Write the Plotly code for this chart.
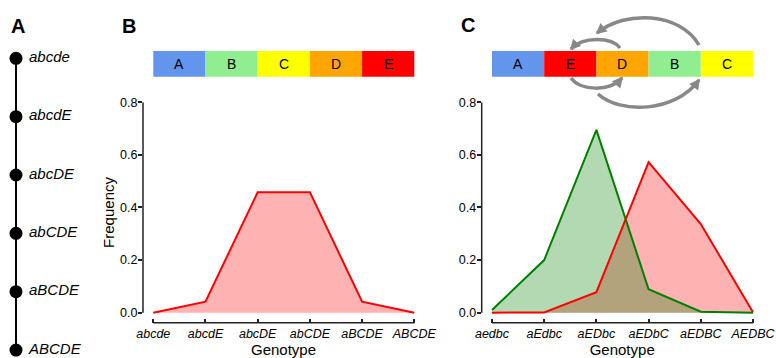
import plotly.graph_objects as go

W, H = 776, 358
FONT = "Liberation Sans, Arial, Helvetica, sans-serif"

# ---------------- data ----------------
path_genotypes = ["abcde", "abcdE", "abcDE", "abCDE", "aBCDE", "ABCDE"]

b_genotypes = ["abcde", "abcdE", "abcDE", "abCDE", "aBCDE", "ABCDE"]
b_freq = [0.0, 0.042, 0.458, 0.458, 0.042, 0.0]

c_genotypes = ["aedbc", "aEdbc", "aEDbc", "aEDbC", "aEDBC", "AEDBC"]
c_green = [0.01, 0.20, 0.695, 0.089, 0.004, 0.0]
c_red = [0.0, 0.001, 0.078, 0.572, 0.337, 0.002]

b_genes = ["A", "B", "C", "D", "E"]
c_genes = ["A", "E", "D", "B", "C"]
gene_colors = {"A": "#6495ED", "B": "#90EE90", "C": "#FFFF00", "D": "#FFA500", "E": "#FF0000"}

yticks = [0.0, 0.2, 0.4, 0.6, 0.8]


def X(px):
    return px / W


def Y(py):
    return 1 - py / H


fig = go.Figure()

# ---------------- panel A ----------------
fig.add_trace(go.Scatter(
    x=[0] * len(path_genotypes), y=list(range(len(path_genotypes))),
    mode="lines+markers",
    line=dict(color="black", width=2),
    marker=dict(size=13, color="black"),
    xaxis="x", yaxis="y", showlegend=False, hoverinfo="skip", cliponaxis=False,
))
fig.add_trace(go.Scatter(
    x=[13] * len(path_genotypes), y=list(range(len(path_genotypes))),
    mode="text",
    text=["<i>%s</i>" % g for g in path_genotypes],
    textposition="middle right",
    textfont=dict(size=15, color="black", family=FONT),
    xaxis="x", yaxis="y", showlegend=False, hoverinfo="skip", cliponaxis=False,
))

# ---------------- panel B ----------------
xb = list(range(len(b_genotypes)))
fig.add_trace(go.Scatter(
    x=xb, y=b_freq, mode="lines", fill="tozeroy",
    fillcolor="rgba(255,0,0,0.3)", line=dict(width=0, color="rgba(0,0,0,0)"),
    xaxis="x2", yaxis="y2", showlegend=False, hoverinfo="skip"))
fig.add_trace(go.Scatter(
    x=xb, y=b_freq, mode="lines", line=dict(color="red", width=2),
    xaxis="x2", yaxis="y2", showlegend=False))

# ---------------- panel C ----------------
xc = list(range(len(c_genotypes)))
fig.add_trace(go.Scatter(
    x=xc, y=c_red, mode="lines", fill="tozeroy",
    fillcolor="rgba(255,0,0,0.3)", line=dict(width=0, color="rgba(0,0,0,0)"),
    xaxis="x3", yaxis="y3", showlegend=False, hoverinfo="skip"))
fig.add_trace(go.Scatter(
    x=xc, y=c_green, mode="lines", fill="tozeroy",
    fillcolor="rgba(0,128,0,0.3)", line=dict(width=0, color="rgba(0,0,0,0)"),
    xaxis="x3", yaxis="y3", showlegend=False, hoverinfo="skip"))
fig.add_trace(go.Scatter(
    x=xc, y=c_red, mode="lines", line=dict(color="red", width=2),
    xaxis="x3", yaxis="y3", showlegend=False))
fig.add_trace(go.Scatter(
    x=xc, y=c_green, mode="lines", line=dict(color="green", width=2),
    xaxis="x3", yaxis="y3", showlegend=False))

shapes = []
annotations = []

# axis spines (bounded)
for xa, ya, n in (("x2", "y2", len(b_genotypes)), ("x3", "y3", len(c_genotypes))):
    shapes.append(dict(type="line", xref=xa, yref=ya + " domain", x0=0, x1=n - 1, y0=0, y1=0,
                       line=dict(color="#222", width=1.5)))
    shapes.append(dict(type="line", xref=xa + " domain", yref=ya, x0=0, x1=0, y0=yticks[0], y1=yticks[-1],
                       line=dict(color="#222", width=1.5)))

# gene bars
bar_y0, bar_y1 = Y(76.7), Y(51)
for xa, genes in (("x2", b_genes), ("x3", c_genes)):
    for i, g in enumerate(genes):
        shapes.append(dict(type="rect", xref=xa, yref="paper", x0=i, x1=i + 1, y0=bar_y0, y1=bar_y1,
                           fillcolor=gene_colors[g], line=dict(width=0), layer="below"))
        annotations.append(dict(xref=xa, yref="paper", x=i + 0.5, y=(bar_y0 + bar_y1) / 2, text=g,
                                xanchor="center", yanchor="middle",
                                showarrow=False, font=dict(size=14, color="black", family=FONT)))


# arrows (decorative curves, pixel geometry)
def curve_arrow(p0, p1, p2, p3):
    path = "M %f,%f C %f,%f %f,%f %f,%f" % (X(p0[0]), Y(p0[1]), X(p1[0]), Y(p1[1]),
                                             X(p2[0]), Y(p2[1]), X(p3[0]), Y(p3[1]))
    shapes.append(dict(type="path", xref="paper", yref="paper", path=path,
                       line=dict(color="#888888", width=3.5)))
    dx, dy = p3[0] - p2[0], p3[1] - p2[1]
    L = (dx * dx + dy * dy) ** 0.5
    ux, uy = dx / L, dy / L
    hl, hw = 9.0, 5.5
    bx, by = p3[0] - ux * hl, p3[1] - uy * hl
    a = (bx - uy * hw, by + ux * hw)
    b = (bx + uy * hw, by - ux * hw)
    tip = (p3[0] + ux * 1.5, p3[1] + uy * 1.5)
    tri = "M %f,%f L %f,%f L %f,%f Z" % (X(tip[0]), Y(tip[1]), X(a[0]), Y(a[1]), X(b[0]), Y(b[1]))
    shapes.append(dict(type="path", xref="paper", yref="paper", path=tri,
                       fillcolor="#888888", line=dict(width=0)))


curve_arrow((699, 45), (680, 12), (625, 10), (597, 33))
curve_arrow((620, 48), (612, 37), (583, 36), (571, 49))
curve_arrow((571, 78), (580, 91), (610, 92), (622, 78))
curve_arrow((598, 94), (620, 114), (675, 113), (699, 80))

# panel letters
for txt, px, py in (("A", 18, 26), ("B", 129, 26), ("C", 468, 25.5)):
    annotations.append(dict(xref="paper", yref="paper", x=X(px), y=Y(py), text="<b>%s</b>" % txt,
                            showarrow=False, xanchor="center", yanchor="middle",
                            font=dict(size=20, color="black", family=FONT)))

tickfont = dict(size=12.5, color="black", family=FONT)
common_x = dict(range=[-0.197, 5.186], tickmode="array", ticks="inside", ticklen=4, tickwidth=1.5,
                tickcolor="#222", showgrid=False, zeroline=False, showline=False, automargin=False,
                ticklabelstandoff=2,
                tickfont=dict(size=12.5, color="black", family=FONT, style="italic"),
                title=dict(text="Genotype", font=dict(size=15, color="black", family=FONT), standoff=2))
common_y = dict(range=[-0.038, 0.8], tickmode="array", tickvals=yticks, automargin=False,
                ticklabelstandoff=-2,
                ticktext=["%.1f" % v for v in yticks], ticks="outside", ticklen=4, tickwidth=1.5,
                tickcolor="#222", showgrid=False, zeroline=False, showline=False, tickfont=tickfont)

fig.update_layout(
    width=W, height=H, margin=dict(l=0, r=0, t=0, b=0, autoexpand=False),
    paper_bgcolor="white", plot_bgcolor="white",
    font=dict(family=FONT, color="black"),
    xaxis=dict(domain=[0, X(116)], range=[-16, 100], visible=False, automargin=False),
    yaxis=dict(domain=[0, 1], range=[5.136, -0.999], visible=False, automargin=False),
    xaxis2=dict(domain=[X(143), X(424)], tickvals=xb, ticktext=b_genotypes, anchor="y2", **common_x),
    yaxis2=dict(domain=[Y(322.7), Y(102.2)], anchor="x2",
                title=dict(text="Frequency", font=dict(size=15, color="black", family=FONT), standoff=1),
                **common_y),
    xaxis3=dict(domain=[X(481.7), X(762.7)], tickvals=xc, ticktext=c_genotypes, anchor="y3", **common_x),
    yaxis3=dict(domain=[Y(322.7), Y(102.2)], anchor="x3", **common_y),
    shapes=shapes, annotations=annotations,
)

fig.write_html("out.html")
